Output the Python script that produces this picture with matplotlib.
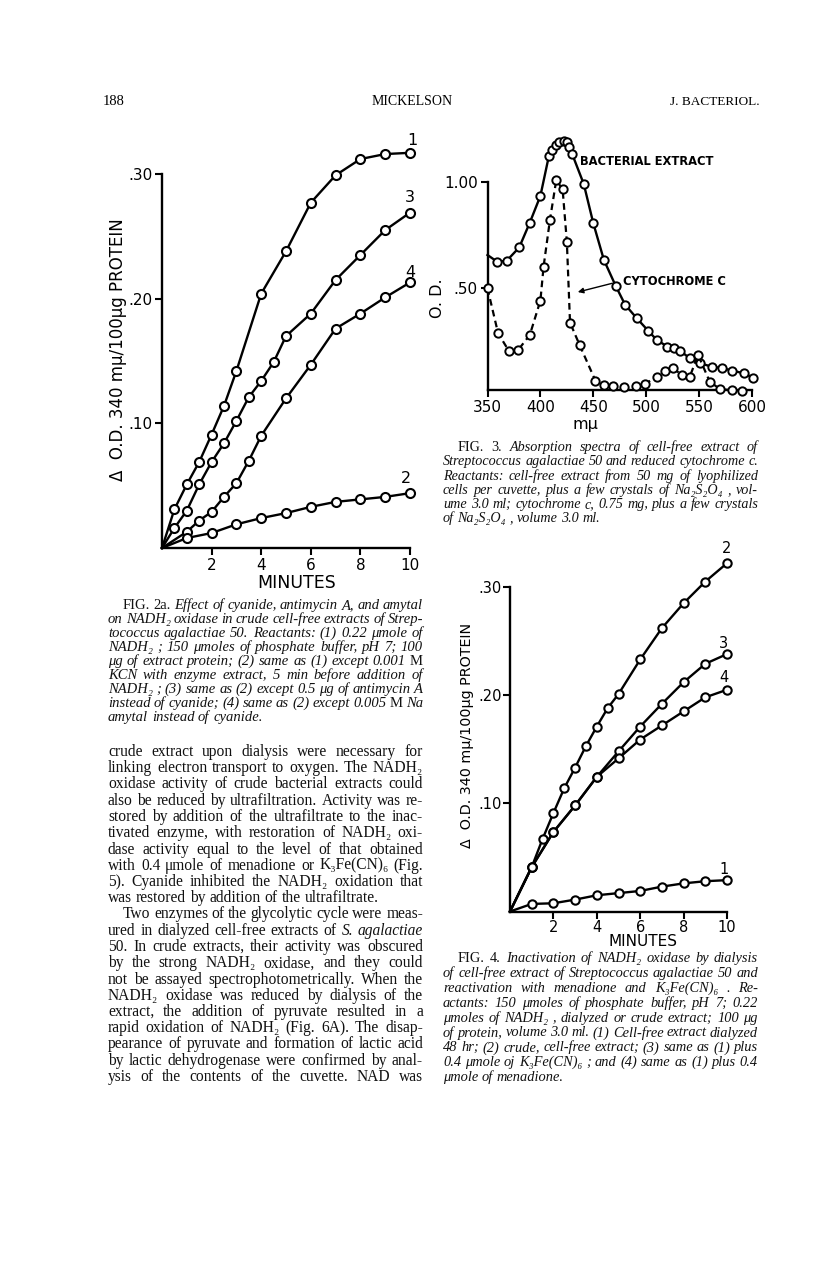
"""Journal page: Fig. 2a, Fig. 3 and Fig. 4 (Mickelson, J. Bacteriol. p. 188)."""

import matplotlib

matplotlib.use("Agg")
import matplotlib.pyplot as plt

W, H, DPI = 816, 1264, 100
SANS = "DejaVu Sans"
SERIF = ["Liberation Serif", "DejaVu Serif"]

# ---- Fig. 2a: delta O.D. 340 vs minutes (first point = origin, no marker)
t2a_1 = [0, 0.5, 1, 1.5, 2, 2.5, 3, 4, 5, 6, 7, 8, 9, 10]
od2a_1 = [0, 0.031, 0.051, 0.069, 0.091, 0.114, 0.142, 0.204, 0.238, 0.277, 0.299, 0.312, 0.316, 0.317]
t2a_3 = [0, 0.5, 1, 1.5, 2, 2.5, 3, 3.5, 4, 4.5, 5, 6, 7, 8, 9, 10]
od2a_3 = [0, 0.016, 0.030, 0.051, 0.069, 0.084, 0.102, 0.121, 0.134, 0.149, 0.170, 0.188, 0.215, 0.235, 0.255, 0.269]
t2a_4 = [0, 1, 1.5, 2, 2.5, 3, 3.5, 4, 5, 6, 7, 8, 9, 10]
od2a_4 = [0, 0.013, 0.022, 0.029, 0.041, 0.052, 0.070, 0.090, 0.120, 0.147, 0.176, 0.188, 0.201, 0.213]
t2a_2 = [0, 1, 2, 3, 4, 5, 6, 7, 8, 9, 10]
od2a_2 = [0, 0.008, 0.012, 0.019, 0.024, 0.028, 0.033, 0.037, 0.039, 0.041, 0.044]

# ---- Fig. 3: absorption spectra (first value = line start on the axis)
wl_ext = [350, 359, 368, 380, 390, 400, 408, 411, 415, 418, 422, 425, 427, 430, 441, 450, 460,
          471, 480, 491, 502, 510, 520, 526, 532, 541, 551, 562, 572, 581, 592, 601]
od_ext = [0.654, 0.623, 0.626, 0.69, 0.807, 0.933, 1.121, 1.15, 1.173, 1.189, 1.193, 1.189, 1.165,
          1.131, 0.989, 0.804, 0.631, 0.51, 0.42, 0.356, 0.296, 0.253, 0.222, 0.214, 0.203, 0.167,
          0.143, 0.127, 0.120, 0.109, 0.096, 0.075]
wl_cyt = [350, 360, 370, 379, 390, 400, 403, 409, 415, 421, 425, 428, 437, 452, 460, 469, 479,
          490, 499, 510, 518, 525, 534, 541, 549, 560, 570, 581, 591]
od_cyt = [0.497, 0.285, 0.203, 0.206, 0.277, 0.439, 0.599, 0.819, 1.008, 0.964, 0.717, 0.335,
          0.23, 0.061, 0.041, 0.036, 0.03, 0.036, 0.046, 0.08, 0.109, 0.12, 0.088, 0.077, 0.183,
          0.057, 0.02, 0.017, 0.014]

# ---- Fig. 4: dialysis / reactivation
t4_2 = [0, 1, 1.5, 2, 2.5, 3, 3.5, 4, 4.5, 5, 6, 7, 8, 9, 10]
od4_2 = [0, 0.041, 0.067, 0.091, 0.114, 0.133, 0.153, 0.171, 0.188, 0.201, 0.233, 0.262, 0.285, 0.305, 0.322]
t4_3 = [0, 1, 2, 3, 4, 5, 6, 7, 8, 9, 10]
od4_3 = [0, 0.041, 0.0735, 0.098, 0.1245, 0.148, 0.171, 0.192, 0.212, 0.229, 0.238]
t4_4 = [0, 1, 2, 3, 4, 5, 6, 7, 8, 9, 10]
od4_4 = [0, 0.041, 0.0735, 0.098, 0.1245, 0.1415, 0.159, 0.172, 0.185, 0.198, 0.205]
t4_1 = [0, 1, 2, 3, 4, 5, 6, 7, 8, 9, 10]
od4_1 = [0, 0.007, 0.0076, 0.011, 0.015, 0.017, 0.019, 0.023, 0.026, 0.028, 0.029]

minute_ticks = [2, 4, 6, 8, 10]
od_ticks = [0.10, 0.20, 0.30]
od_tick_labels = [".10", ".20", ".30"]
wl_ticks = [350, 400, 450, 500, 550, 600]
spec_ticks = [0.5, 1.0]
spec_tick_labels = [".50", "1.00"]

# ---- page text (a leading "~" switches one word to the alternate style)
header = ("188", "MICKELSON", "J. BACTERIOL.")

cap2a = [
    "~FIG. ~2a. Effect of cyanide, antimycin A, and amytal",
    "on NADH₂ oxidase in crude cell-free extracts of Strep-",
    "tococcus agalactiae 50. Reactants: (1) 0.22 μmole of",
    "NADH₂ ; 150 μmoles of phosphate buffer, pH 7; 100",
    "μg of extract protein; (2) same as (1) except 0.001 ~M",
    "KCN with enzyme extract, 5 min before addition of",
    "NADH₂ ; (3) same as (2) except 0.5 μg of antimycin A",
    "instead of cyanide; (4) same as (2) except 0.005 ~M Na",
    "amytal instead of cyanide.",
]
body = [
    "crude extract upon dialysis were necessary for",
    "linking electron transport to oxygen. The NADH₂",
    "oxidase activity of crude bacterial extracts could",
    "also be reduced by ultrafiltration. Activity was re-",
    "stored by addition of the ultrafiltrate to the inac-",
    "tivated enzyme, with restoration of NADH₂ oxi-",
    "dase activity equal to the level of that obtained",
    "with 0.4 μmole of menadione or K₃Fe(CN)₆ (Fig.",
    "5). Cyanide inhibited the NADH₂ oxidation that",
    "was restored by addition of the ultrafiltrate.",
    "Two enzymes of the glycolytic cycle were meas-",
    "ured in dialyzed cell-free extracts of ~S. ~agalactiae",
    "50. In crude extracts, their activity was obscured",
    "by the strong NADH₂ oxidase, and they could",
    "not be assayed spectrophotometrically. When the",
    "NADH₂ oxidase was reduced by dialysis of the",
    "extract, the addition of pyruvate resulted in a",
    "rapid oxidation of NADH₂ (Fig. 6A). The disap-",
    "pearance of pyruvate and formation of lactic acid",
    "by lactic dehydrogenase were confirmed by anal-",
    "ysis of the contents of the cuvette. NAD was",
]
body_ragged = {9}
body_indent = {10}

cap3 = [
    "~FIG. ~3. Absorption spectra of cell-free extract of",
    "Streptococcus agalactiae 50 and reduced cytochrome c.",
    "Reactants: cell-free extract from 50 mg of lyophilized",
    "cells per cuvette, plus a few crystals of Na₂S₂O₄ , vol-",
    "ume 3.0 ml; cytochrome c, 0.75 mg, plus a few crystals",
    "of Na₂S₂O₄ , volume 3.0 ml.",
]
cap4 = [
    "~FIG. ~4. Inactivation of NADH₂ oxidase by dialysis",
    "of cell-free extract of Streptococcus agalactiae 50 and",
    "reactivation with menadione and K₃Fe(CN)₆ . Re-",
    "actants: 150 μmoles of phosphate buffer, pH 7; 0.22",
    "μmoles of NADH₂ , dialyzed or crude extract; 100 μg",
    "of protein, volume 3.0 ml. (1) Cell-free extract dialyzed",
    "48 hr; (2) crude, cell-free extract; (3) same as (1) plus",
    "0.4 μmole oj K₃Fe(CN)₆ ; and (4) same as (1) plus 0.4",
    "μmole of menadione.",
]

fig = plt.figure(figsize=(W / DPI, H / DPI), dpi=DPI)
fig.patch.set_facecolor("white")
renderer = fig.canvas.get_renderer()


def px_axes(left, top, right, bottom):
    return fig.add_axes([left / W, 1 - bottom / H, (right - left) / W, (bottom - top) / H])


def style_axes(ax, labelsize, pad=2):
    ax.set_facecolor("none")
    for s in ("top", "right"):
        ax.spines[s].set_visible(False)
    for s in ("left", "bottom"):
        ax.spines[s].set_linewidth(1.7)
    ax.tick_params(direction="out", length=5, width=1.5, labelsize=labelsize, pad=pad)
    for lab in ax.get_xticklabels() + ax.get_yticklabels():
        lab.set_family(SANS)


def curve(ax, x, y, ms=6.5, ls="-"):
    ax.plot(x, y, color="k", lw=1.7, ls=ls, marker="o", mfc="white", mec="k",
            mew=1.5, ms=ms, markevery=list(range(1, len(x))), clip_on=False, zorder=3)


def make_words(line, size, style, alt):
    items = []
    for word in line.split():
        st = style
        if word.startswith("~"):
            word, st = word[1:], alt
        t = fig.text(0, 0, word, fontsize=size, family=SERIF, style=st,
                     ha="left", va="baseline", color="#111111")
        items.append((t, t.get_window_extent(renderer).width))
    return items


def paragraph(lines, x0, x1, y0, step, base, style, alt, indent=(0,), ragged=None):
    ragged = {len(lines) - 1} if ragged is None else ragged
    space = 0.21 * base * DPI / 72
    # pick the size that lets the tightest justified line fit with narrow spaces
    scale = 10.0
    for i, line in enumerate(lines):
        if i in ragged:
            continue
        items = make_words(line, base, style, alt)
        natural = sum(w for _, w in items) + space * (len(items) - 1)
        avail = x1 - x0 - (15 if i in indent else 0)
        scale = min(scale, avail / natural)
        for t, _ in items:
            t.remove()
    size = base * scale * 0.995
    for i, line in enumerate(lines):
        left = x0 + (15 if i in indent else 0)
        items = make_words(line, size, style, alt)
        total = sum(w for _, w in items)
        gap = 0.25 * size * DPI / 72
        if i not in ragged and len(items) > 1:
            gap = (x1 - left - total) / (len(items) - 1)
        x = left
        y = y0 + i * step
        for t, w in items:
            t.set_position((x / W, 1 - y / H))
            x += w + gap


# ---------------- Fig. 2a
ax = px_axes(162, 174, 410, 548)
curve(ax, t2a_1, od2a_1)
curve(ax, t2a_3, od2a_3)
curve(ax, t2a_4, od2a_4)
curve(ax, t2a_2, od2a_2)
ax.set_xlim(0, 10)
ax.set_ylim(0, 0.30)
ax.set_xticks(minute_ticks)
ax.set_yticks(od_ticks)
ax.set_yticklabels(od_tick_labels)
style_axes(ax, 11)
for lab, xx, yy in (("1", 10.1, 0.327), ("3", 10.0, 0.281), ("4", 10.0, 0.221), ("2", 9.85, 0.056)):
    ax.text(xx, yy, lab, fontsize=11.5, family=SANS, ha="center", va="center")
fig.text(297 / W, 1 - 583 / H, "MINUTES", fontsize=12.5, family=SANS, ha="center", va="center")
fig.text(118 / W, 1 - 350 / H, "Δ  O.D. 340 mμ/100μg PROTEIN", fontsize=12, family=SANS,
         rotation=90, ha="center", va="center")

# ---------------- Fig. 3
ax3 = px_axes(487.5, 181.7, 752, 390)
ax3.plot(wl_ext, od_ext, color="k", lw=1.7, marker="o", mfc="white", mec="k", mew=1.4,
         ms=6, markevery=list(range(1, len(wl_ext))), clip_on=False, zorder=3)
ax3.plot(wl_cyt, od_cyt, color="k", lw=1.6, ls=(0, (3, 2)), marker="o", mfc="white", mec="k",
         mew=1.4, ms=6, clip_on=False, zorder=3)
ax3.set_xlim(350, 600)
ax3.set_ylim(0.017, 1.0)
ax3.set_xticks(wl_ticks)
ax3.set_yticks(spec_ticks)
ax3.set_yticklabels(spec_tick_labels)
style_axes(ax3, 11)
ax3.text(437.5, 1.094, "BACTERIAL EXTRACT", fontsize=8.3, family=SANS, weight="bold",
         ha="left", va="center")
ax3.text(478.2, 0.527, "CYTOCHROME C", fontsize=8.3, family=SANS, weight="bold",
         ha="left", va="center")
ax3.annotate("", xy=(432.8, 0.476), xytext=(470.6, 0.524),
             arrowprops=dict(arrowstyle="-|>", color="k", lw=1.0, mutation_scale=8))
fig.text(585 / W, 1 - 424 / H, "mμ", fontsize=11.5, family=SANS, ha="center", va="center")
fig.text(438 / W, 1 - 298 / H, "O. D.", fontsize=11.5, family=SANS, rotation=90,
         ha="center", va="center")

# ---------------- Fig. 4
ax4 = px_axes(510, 587, 727, 911.5)
curve(ax4, t4_2, od4_2, ms=6)
curve(ax4, t4_3, od4_3, ms=6)
curve(ax4, t4_4, od4_4, ms=6)
curve(ax4, t4_1, od4_1, ms=6)
ax4.set_xlim(0, 10)
ax4.set_ylim(0, 0.30)
ax4.set_xticks(minute_ticks)
ax4.set_yticks(od_ticks)
ax4.set_yticklabels(od_tick_labels)
style_axes(ax4, 10.5, pad=1)
for lab, xx, yy in (("2", 10.0, 0.336), ("3", 9.86, 0.248), ("4", 9.86, 0.216), ("1", 9.86, 0.039)):
    ax4.text(xx, yy, lab, fontsize=10.5, family=SANS, ha="center", va="center")
fig.text(643 / W, 1 - 942 / H, "MINUTES", fontsize=11, family=SANS, ha="center", va="center")
fig.text(467 / W, 1 - 735 / H, "Δ  O.D. 340 mμ/100μg PROTEIN", fontsize=10.3, family=SANS,
         rotation=90, ha="center", va="center")

# ---------------- page text
fig.text(103 / W, 1 - 105 / H, header[0], fontsize=10.5, family=SERIF, ha="left", va="baseline")
fig.text(412 / W, 1 - 105 / H, header[1], fontsize=10, family=SERIF, ha="center", va="baseline")
fig.text(760 / W, 1 - 105 / H, header[2], fontsize=9.5, family=SERIF, ha="right", va="baseline")

paragraph(cap2a, 108, 423, 609, 14.0, 10, "italic", "normal")
paragraph(body, 108, 423, 756, 16.25, 11, "normal", "italic", indent=body_indent, ragged=body_ragged)
paragraph(cap3, 443, 758, 451, 14.3, 10, "italic", "normal")
paragraph(cap4, 443, 758, 962, 14.9, 10, "italic", "normal")

fig.savefig("out.png", dpi=DPI, facecolor="white")
